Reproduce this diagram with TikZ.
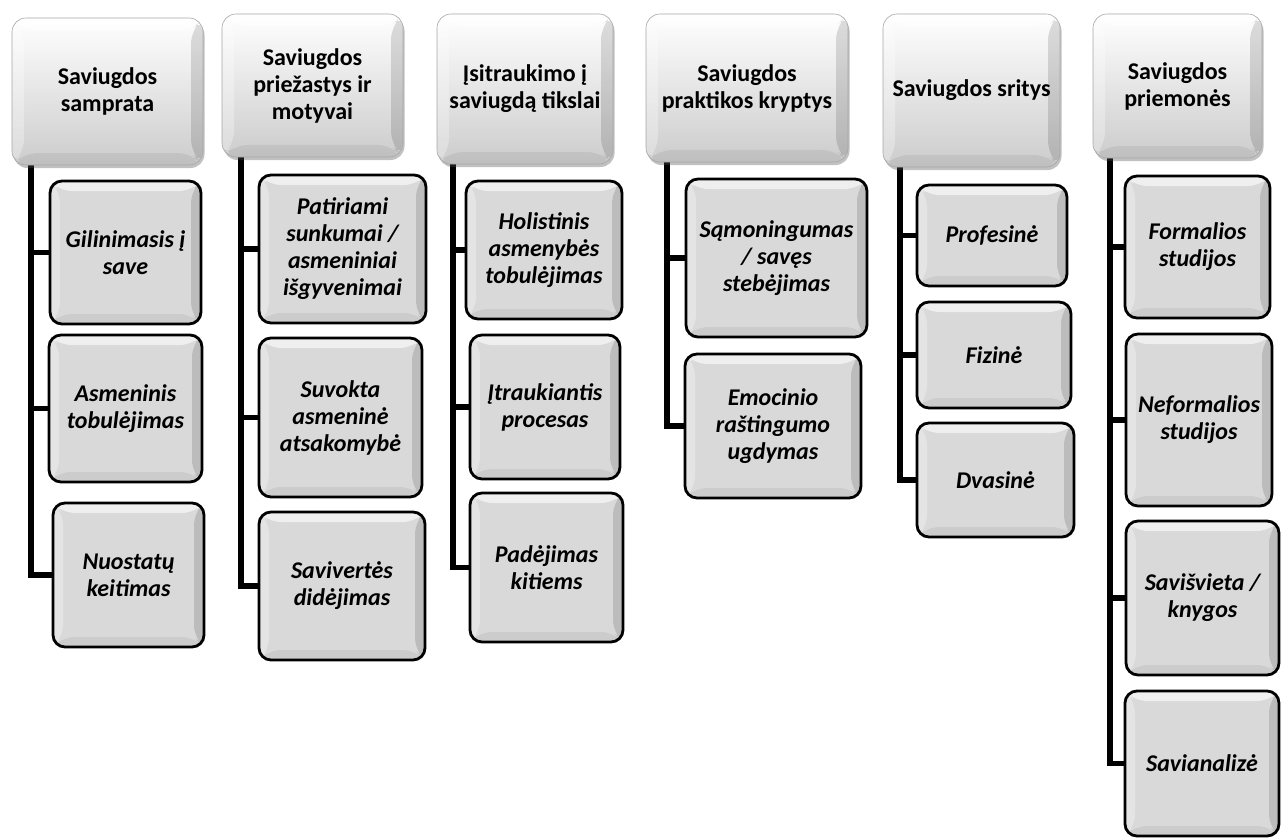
\documentclass[tikz,border=0pt]{standalone}
\usepackage{fontspec}
\setmainfont{Carlito}
\usetikzlibrary{shadows}
\pgfdeclarelayer{bg}
\pgfsetlayers{bg,main}
\newcommand\mybox[7]{\node[#2, minimum width={#5-#3}, minimum height={#6-#4}] (#1) at ({(#3+#5)/2},{-(#4+#6)/2}) {#7};}
\tikzset{
  bevel/.style={path picture={
    \path (path picture bounding box.north west) coordinate (nw)
          (path picture bounding box.south east) coordinate (se);
    \fill[white,opacity=.60] (nw) -- (nw -| se) -- ([shift={(-#1,-#1)}]nw -| se) -- ([shift={(#1,-#1)}]nw) -- cycle;
    \fill[black,opacity=.13] (nw -| se) -- (se) -- ([shift={(-#1,#1)}]se) -- ([shift={(-#1,-#1)}]nw -| se) -- cycle;
    \fill[black,opacity=.06] (se) -- (se -| nw) -- ([shift={(#1,#1)}]se -| nw) -- ([shift={(-#1,#1)}]se) -- cycle;
    \fill[white,opacity=.30] (se -| nw) -- (nw) -- ([shift={(#1,-#1)}]nw) -- ([shift={(#1,#1)}]se -| nw) -- cycle;
  }},
  hdr/.style={rectangle, rounded corners=14pt, draw=black!35, line width=0.6pt,
    top color=white, bottom color=black!20, bevel=12,
    drop shadow={shadow xshift=1.5pt, shadow yshift=-3pt, opacity=.35, fill=black!70},
    inner sep=0pt, align=center, font=\bfseries\fontsize{24}{27}\selectfont},
  kid/.style={rectangle, rounded corners=12pt, draw=black, line width=2.8pt,
    fill=black!15, bevel=10, inner sep=0pt, align=center,
    font=\bfseries\itshape\fontsize{24}{27}\selectfont},
  conn/.style={draw=black, line width=5.5pt}
}
\begin{document}
\begin{tikzpicture}[x=1pt,y=1pt]
\useasboundingbox (0,0) rectangle (1282,-840);
% headers
\mybox{H1}{hdr}{12}{18}{203}{165}{Saviugdos\\samprata}
\mybox{H2}{hdr}{222}{14}{403}{157}{Saviugdos\\priežastys ir\\motyvai}
\mybox{H3}{hdr}{437}{14}{613}{164}{Įsitraukimo į\\saviugdą tikslai}
\mybox{H4}{hdr}{646}{14}{848}{162}{Saviugdos\\praktikos kryptys}
\mybox{H5}{hdr}{883}{14}{1060}{167}{Saviugdos sritys}
\mybox{H6}{hdr}{1093}{14}{1262}{158}{Saviugdos\\priemonės}
% column 1
\mybox{C11}{kid}{50}{181}{201}{324}{Gilinimasis į\\save}
\mybox{C12}{kid}{49}{335}{202}{482}{Asmeninis\\tobulėjimas}
\mybox{C13}{kid}{53}{503}{204}{647}{Nuostatų\\keitimas}
% column 2
\mybox{C21}{kid}{259}{175}{426}{323}{Patiriami\\sunkumai /\\asmeniniai\\išgyvenimai}
\mybox{C22}{kid}{259}{338}{422}{497}{Suvokta\\asmeninė\\atsakomybė}
\mybox{C23}{kid}{259}{512}{425}{660}{Savivertės\\didėjimas}
% column 3
\mybox{C31}{kid}{466}{181}{622}{319}{Holistinis\\asmenybės\\tobulėjimas}
\mybox{C32}{kid}{470}{335}{620}{479}{Įtraukiantis\\procesas}
\mybox{C33}{kid}{470}{493}{623}{642}{Padėjimas\\kitiems}
% column 4
\mybox{C41}{kid}{686}{179}{867}{337}{Sąmoningumas\\/ savęs\\stebėjimas}
\mybox{C42}{kid}{685}{354}{861}{498}{Emocinio\\raštingumo\\ugdymas}
% column 5
\mybox{C51}{kid}{917}{185}{1067}{286}{Profesinė}
\mybox{C52}{kid}{917}{302}{1071}{408}{Fizinė}
\mybox{C53}{kid}{917}{423}{1074}{537}{Dvasinė}
% column 6
\mybox{C61}{kid}{1125}{176}{1270}{318}{Formalios\\studijos}
\mybox{C62}{kid}{1126}{334}{1272}{506}{Neformalios\\studijos}
\mybox{C63}{kid}{1126}{521}{1279}{675}{Savišvieta /\\knygos}
\mybox{C64}{kid}{1125}{691}{1279}{836}{Savianalizė}
% connectors
\coordinate (t1) at (31,-160);
\coordinate (t2) at (241,-152);
\coordinate (t3) at (453,-159);
\coordinate (t4) at (667,-157);
\coordinate (t5) at (900,-162);
\coordinate (t6) at (1110,-153);
\begin{pgfonlayer}{bg}
\draw[conn] (t1) |- (C13.west);
\draw[conn] (t1 |- C11.west) -- (C11.west);
\draw[conn] (t1 |- C12.west) -- (C12.west);
\draw[conn] (t2) |- (C23.west);
\draw[conn] (t2 |- C21.west) -- (C21.west);
\draw[conn] (t2 |- C22.west) -- (C22.west);
\draw[conn] (t3) |- (C33.west);
\draw[conn] (t3 |- C31.west) -- (C31.west);
\draw[conn] (t3 |- C32.west) -- (C32.west);
\draw[conn] (t4) |- (C42.west);
\draw[conn] (t4 |- C41.west) -- (C41.west);
\draw[conn] (t5) |- (C53.west);
\draw[conn] (t5 |- C51.west) -- (C51.west);
\draw[conn] (t5 |- C52.west) -- (C52.west);
\draw[conn] (t6) |- (C64.west);
\draw[conn] (t6 |- C61.west) -- (C61.west);
\draw[conn] (t6 |- C62.west) -- (C62.west);
\draw[conn] (t6 |- C63.west) -- (C63.west);
\end{pgfonlayer}
\end{tikzpicture}
\end{document}
